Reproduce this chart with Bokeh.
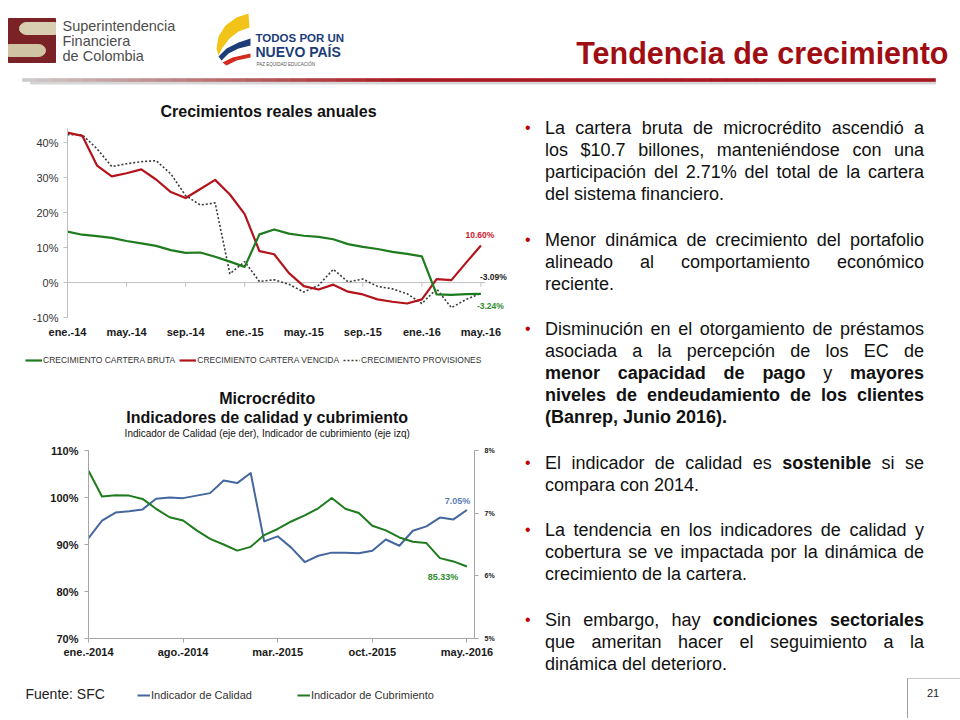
import numpy as np
from bokeh.plotting import figure
from bokeh.models import (Range1d, FixedTicker, PrintfTickFormatter, Label,
                          Legend, LegendItem, LinearAxis, Div)
from bokeh.layouts import column, row
from bokeh.core.properties import value
from bokeh.embed import file_html
from bokeh.resources import INLINE

FONT = "Liberation Sans"

# ---------------- Chart 1: Crecimientos reales anuales (%) ----------------
meses1 = ["ene.-14", "feb.-14", "mar.-14", "abr.-14", "may.-14", "jun.-14", "jul.-14",
          "ago.-14", "sep.-14", "oct.-14", "nov.-14", "dic.-14", "ene.-15", "feb.-15",
          "mar.-15", "abr.-15", "may.-15", "jun.-15", "jul.-15", "ago.-15", "sep.-15",
          "oct.-15", "nov.-15", "dic.-15", "ene.-16", "feb.-16", "mar.-16", "abr.-16",
          "may.-16"]
crec_cartera_bruta = [14.6, 13.7, 13.3, 12.8, 11.9, 11.2, 10.5, 9.3, 8.5, 8.6, 7.4, 6.0,
                      4.5, 13.8, 15.2, 14.0, 13.4, 13.1, 12.4, 11.0, 10.2, 9.6, 8.8, 8.2,
                      7.5, -3.4, -3.5, -3.3, -3.24]
crec_cartera_vencida = [42.9, 42.0, 33.5, 30.4, 31.3, 32.4, 29.5, 25.9, 24.2, 26.8, 29.4,
                        25.2, 19.6, 9.0, 8.1, 2.7, -1.0, -2.0, -0.6, -2.6, -3.4, -4.8,
                        -5.5, -6.0, -4.8, 1.0, 0.7, 5.7, 10.6]
crec_provisiones = [42.3, 42.3, 38.3, 33.2, 34.0, 34.6, 34.9, 31.1, 24.9, 22.2, 22.8, 2.5,
                    6.0, 0.3, 0.8, -0.5, -2.7, -0.8, 3.8, 0.2, 1.0, -1.1, -1.8, -3.2,
                    -6.0, -1.8, -7.2, -4.8, -3.09]
etiquetas_x1 = ["ene.-14", "may.-14", "sep.-14", "ene.-15", "may.-15", "sep.-15",
                "ene.-16", "may.-16"]
ticks_y1 = [-10, 0, 10, 20, 30, 40]

# ---------------- Chart 2: Microcrédito, calidad y cubrimiento ----------------
meses2 = ["ene.-2014", "feb.-2014", "mar.-2014", "abr.-2014", "may.-2014", "jun.-2014",
          "jul.-2014", "ago.-2014", "sep.-2014", "oct.-2014", "nov.-2014", "dic.-2014",
          "ene.-2015", "feb.-2015", "mar.-2015", "abr.-2015", "may.-2015", "jun.-2015",
          "jul.-2015", "ago.-2015", "sep.-2015", "oct.-2015", "nov.-2015", "dic.-2015",
          "ene.-2016", "feb.-2016", "mar.-2016", "abr.-2016", "may.-2016"]
indicador_calidad = [6.60, 6.88, 7.01, 7.03, 7.06, 7.23, 7.25, 7.24, 7.28, 7.32, 7.52, 7.48,
                     7.64, 6.55, 6.63, 6.45, 6.22, 6.32, 6.37, 6.37, 6.36, 6.40, 6.58, 6.48,
                     6.72, 6.79, 6.93, 6.90, 7.05]
indicador_cubrimiento = [105.7, 100.2, 100.5, 100.4, 99.7, 97.6, 95.8, 95.1, 93.0, 91.2,
                         90.0, 88.7, 89.5, 92.0, 93.3, 94.9, 96.2, 97.7, 99.9, 97.6, 96.7,
                         94.0, 93.0, 91.5, 90.6, 90.3, 87.1, 86.4, 85.33]
etiquetas_x2 = ["ene.-2014", "ago.-2014", "mar.-2015", "oct.-2015", "may.-2016"]
ticks_y2_izq = [70, 80, 90, 100, 110]
ticks_y2_der = [5, 6, 7, 8]

# ---------------- Texto de la diapositiva ----------------
titulo = "Tendencia de crecimiento"
titulo_g1 = "Crecimientos reales anuales"
titulos_g2 = ["Microcrédito", "Indicadores de calidad y cubrimiento",
              "Indicador de Calidad (eje der), Indicador de cubrimiento (eje izq)"]
leyenda_g1 = ["CRECIMIENTO CARTERA BRUTA", "CRECIMIENTO CARTERA VENCIDA",
              "CRECIMIENTO PROVISIONES"]
leyenda_g2 = ["Indicador de Calidad", "Indicador de Cubrimiento"]
fuente = "Fuente: SFC"
parrafos = [
    ["La cartera bruta de microcrédito ascendió a",
     "los $10.7 billones, manteniéndose con una",
     "participación del 2.71% del total de la cartera",
     "del sistema financiero."],
    ["Menor dinámica de crecimiento del portafolio",
     "alineado al comportamiento económico",
     "reciente."],
    ["Disminución en el otorgamiento de préstamos",
     "asociada a la percepción de los EC de",
     "<b>menor capacidad de pago</b> y <b>mayores</b>",
     "<b>niveles de endeudamiento de los clientes</b>",
     "<b>(Banrep, Junio 2016).</b>"],
    ["El indicador de calidad es <b>sostenible</b> si se",
     "compara con 2014."],
    ["La tendencia en los indicadores de calidad y",
     "cobertura se ve impactada por la dinámica de",
     "crecimiento de la cartera."],
    ["Sin embargo, hay <b>condiciones sectoriales</b>",
     "que ameritan hacer el seguimiento a la",
     "dinámica del deterioro."],
]

GREEN = "#1E7B1E"
RED = "#B3141C"
DOTS = "#3A3A3A"
BLUE = "#44679F"
AXIS = "#BFBFBF"
NAN = [float("nan")]


def strip(h, w=508):
    s = figure(width=w, height=h, x_range=Range1d(0, w), y_range=Range1d(h, 0),
               output_backend="svg", toolbar_location=None, x_axis_type=None,
               y_axis_type=None, min_border=0, outline_line_color=None,
               frame_align=False)
    return s


def style_legend(leg, size, gw, gh, spacing):
    leg.orientation = "horizontal"
    leg.background_fill_alpha = 0
    leg.border_line_alpha = 0
    leg.padding = 0
    leg.margin = 0
    leg.spacing = spacing
    leg.glyph_width = gw
    leg.glyph_height = gh
    leg.label_height = gh
    leg.label_standoff = 1
    leg.label_text_font = FONT
    leg.label_text_font_size = size
    leg.label_text_color = "#333333"


# ======================= HEADER =======================
ph = strip(90, 960)
# SFC logo
ph.quad(left=8, right=55, top=18, bottom=62, color="#7B2226")
ph.quad(left=26, right=55, top=22, bottom=34, color="#D8CFB3")
ph.ellipse(x=26, y=28, width=14, height=12, color="#D8CFB3")
ph.quad(left=8, right=38, top=44, bottom=56, color="#CFC5A5")
ph.ellipse(x=38, y=50, width=14, height=12, color="#CFC5A5")
ph.text(x=[62, 62, 62], y=[25, 40, 55], text=["Superintendencia", "Financiera", "de Colombia"],
        text_font=value(FONT), text_font_size="14.5px", text_color="#4D4D4D",
        text_baseline="middle")
# Todos por un nuevo país logo
ph.patches(xs=[[248, 236, 225, 218, 216, 218, 222, 229, 238, 249],
               [218, 226, 238, 250, 250, 238, 228, 221],
               [222, 232, 250, 250, 236, 226]],
           ys=[[13, 17, 25, 36, 48, 55, 47, 38, 31, 27],
               [56, 48, 42, 38, 45, 48, 53, 60],
               [62, 57, 53, 57, 60, 65]],
           color=["#F2C318", "#1C3D78", "#D52B1E"], line_color=None)
ph.text(x=[255], y=[37], text=["TODOS POR UN"], text_font=value(FONT),
        text_font_style="bold", text_font_size="11.5px", text_color="#1C3D78",
        text_baseline="middle")
ph.text(x=[255], y=[51.5], text=["NUEVO PAÍS"], text_font=value(FONT),
        text_font_style="bold", text_font_size="14px", text_color="#1C3D78",
        text_baseline="middle")
ph.text(x=[256], y=[63.5], text=["PAZ  EQUIDAD  EDUCACIÓN"], text_font=value(FONT),
        text_font_size="4.5px", text_color="#555555", text_baseline="middle")
# Title
ph.text(x=[948], y=[52], text=[titulo], text_align="right", text_baseline="alphabetic",
        text_font=value(FONT), text_font_style="bold",
        text_font_size="30.5px", text_color="#A00D12")
# gradient rule
edges = np.linspace(22, 935, 62)
cols = []
for xm in (edges[:-1] + edges[1:]) / 2:
    t = min(1.0, (xm - 22) / 380.0)
    r = int(205 + (168 - 205) * t)
    g = int(205 + (24 - 205) * t)
    b = int(205 + (30 - 205) * t)
    cols.append("#%02x%02x%02x" % (r, g, b))
ph.quad(left=30, right=935, top=81, bottom=83.5, color="#D6D6D6")
ph.quad(left=edges[:-1], right=edges[1:], top=78, bottom=81, fill_color=cols,
        line_color=cols, line_width=0.6)

# ======================= CHART 1 =======================
t1 = strip(34)
t1.text(x=[268], y=[21], text=[titulo_g1], text_align="center", text_baseline="middle",
        text_font=value(FONT), text_font_size="16px", text_font_style="bold",
        text_color="#111111")

x1 = list(range(len(meses1)))
pos1 = [meses1.index(l) for l in etiquetas_x1]

p1 = figure(width=508, height=221, x_range=Range1d(0, 29.8), y_range=Range1d(-10, 44.1),
            output_backend="svg", toolbar_location=None, min_border_left=67,
            min_border_right=1, min_border_top=4, min_border_bottom=28,
            outline_line_color=None, frame_align=False)
p1.grid.visible = False
ya = p1.yaxis[0]
ya.ticker = FixedTicker(ticks=ticks_y1)
ya.formatter = PrintfTickFormatter(format="%d%%")
ya.axis_line_color = AXIS
ya.major_tick_line_color = AXIS
ya.major_tick_out = 4
ya.major_tick_in = 0
ya.minor_tick_line_color = None
ya.major_label_text_font = FONT
ya.major_label_text_font_size = "11px"
ya.major_label_text_color = "#333333"
ya.major_label_standoff = 5

xa = p1.xaxis[0]
xa.ticker = FixedTicker(ticks=pos1)
xa.major_label_overrides = {p: l for p, l in zip(pos1, etiquetas_x1)}
xa.axis_line_color = None
xa.major_tick_line_color = None
xa.minor_tick_line_color = None
xa.major_tick_out = 0
xa.major_label_standoff = 8
xa.major_label_text_font = FONT
xa.major_label_text_font_size = "11px"
xa.major_label_text_font_style = "bold"
xa.major_label_text_color = "#1A1A1A"

# horizontal category axis drawn at 0%
p1.segment(x0=[x1[0]], y0=[0], x1=[x1[-1] + 0.3], y1=[0], line_color=AXIS, line_width=1)
p1.segment(x0=pos1[1:], y0=[0] * (len(pos1) - 1), x1=pos1[1:], y1=[-1.2] * (len(pos1) - 1),
           line_color=AXIS, line_width=1)

p1.line(x1, crec_provisiones, line_color=DOTS, line_width=1.6, line_dash="2 2")
p1.line(x1, crec_cartera_vencida, line_color=RED, line_width=2.2, line_join="round")
p1.line(x1, crec_cartera_bruta, line_color=GREEN, line_width=2.2, line_join="round")

p1.add_layout(Label(x=x1[-1], y=crec_cartera_vencida[-1], x_offset=-1, y_offset=11,
                    text=f"{crec_cartera_vencida[-1]:.2f}%", text_align="center",
                    text_baseline="middle", text_font=FONT, text_font_size="8.5px",
                    text_font_style="bold", text_color="#D0202A"))
p1.add_layout(Label(x=x1[-1], y=crec_provisiones[-1], x_offset=-1, y_offset=16.5,
                    text=f"{crec_provisiones[-1]:.2f}%", text_align="left",
                    text_baseline="middle", text_font=FONT, text_font_size="8.5px",
                    text_font_style="bold", text_color="#222222"))
p1.add_layout(Label(x=x1[-1], y=crec_cartera_bruta[-1], x_offset=-4, y_offset=-12,
                    text=f"{crec_cartera_bruta[-1]:.2f}%", text_align="left",
                    text_baseline="middle", text_font=FONT, text_font_size="8.5px",
                    text_font_style="bold", text_color="#2E8B2E"))

# legend strip (legend swatches only; renderers carry no visible data)
l1 = strip(30)
g_bruta = l1.line(x=NAN, y=NAN, line_color=GREEN, line_width=2.2)
g_venc = l1.line(x=NAN, y=NAN, line_color=RED, line_width=2.2)
g_prov = l1.line(x=NAN, y=NAN, line_color=DOTS, line_width=1.6, line_dash="2 2")
leg1 = Legend(items=[LegendItem(label=leyenda_g1[0], renderers=[g_bruta]),
                     LegendItem(label=leyenda_g1[1], renderers=[g_venc]),
                     LegendItem(label=leyenda_g1[2], renderers=[g_prov])],
              location=(25, 10))
style_legend(leg1, "8.5px", 17, 10, 4)
l1.add_layout(leg1)

# ======================= CHART 2 =======================
t2 = strip(67)
for txt, yy, fs, st in zip(titulos_g2, [23, 42, 58], ["16px", "16px", "10px"],
                           ["bold", "bold", "normal"]):
    t2.text(x=[266.7], y=[yy], text=[txt], text_align="center", text_baseline="middle",
            text_font=value(FONT), text_font_size=fs, text_font_style=st,
            text_color="#111111")

x2 = list(range(len(meses2)))
pos2 = [meses2.index(l) for l in etiquetas_x2]

p2 = figure(width=508, height=230, x_range=Range1d(0, 28.56), y_range=Range1d(70, 110),
            output_backend="svg", toolbar_location=None, min_border_left=88,
            min_border_right=34, min_border_top=8, min_border_bottom=34,
            outline_line_color=None, frame_align=False)
p2.grid.visible = False
p2.extra_y_ranges = {"der": Range1d(5, 8)}

yl = p2.yaxis[0]
yl.ticker = FixedTicker(ticks=ticks_y2_izq)
yl.formatter = PrintfTickFormatter(format="%d%%")
yr = LinearAxis(y_range_name="der", ticker=FixedTicker(ticks=ticks_y2_der),
                formatter=PrintfTickFormatter(format="%d%%"))
p2.add_layout(yr, "right")
for ax, fs in ((yl, "11px"), (yr, "7px")):
    ax.axis_line_color = "#A6A6A6"
    ax.major_tick_line_color = "#A6A6A6"
    ax.major_tick_out = 4
    ax.major_tick_in = 0
    ax.minor_tick_line_color = None
    ax.major_label_standoff = 6
    ax.major_label_text_font = FONT
    ax.major_label_text_font_size = fs
    ax.major_label_text_font_style = "bold"
    ax.major_label_text_color = "#1A1A1A"

xb = p2.xaxis[0]
xb.ticker = FixedTicker(ticks=pos2)
xb.major_label_overrides = {p: l for p, l in zip(pos2, etiquetas_x2)}
xb.axis_line_color = "#A6A6A6"
xb.major_tick_line_color = "#A6A6A6"
xb.minor_tick_line_color = None
xb.major_tick_out = 4
xb.major_tick_in = 0
xb.major_label_standoff = 3
xb.major_label_text_font = FONT
xb.major_label_text_font_size = "11px"
xb.major_label_text_font_style = "bold"
xb.major_label_text_color = "#1A1A1A"

p2.line(x2, indicador_calidad, y_range_name="der", line_color=BLUE, line_width=2,
        line_join="round")
p2.line(x2, indicador_cubrimiento, line_color=GREEN, line_width=2, line_join="round")

p2.add_layout(Label(x=x2[-1], y=indicador_calidad[-1], y_range_name="der", x_offset=3.3,
                    y_offset=9, text=f"{indicador_calidad[-1]:.2f}%", text_align="right",
                    text_baseline="middle", text_font=FONT, text_font_size="9px",
                    text_font_style="bold", text_color="#5B7DB5"))
p2.add_layout(Label(x=x2[-1], y=indicador_cubrimiento[-1], x_offset=-8.7, y_offset=-11,
                    text=f"{indicador_cubrimiento[-1]:.2f}%", text_align="right",
                    text_baseline="middle", text_font=FONT, text_font_size="9px",
                    text_font_style="bold", text_color="#2E8B2E"))

# legend strip + source
l2 = strip(46)
g_cal = l2.line(x=NAN, y=NAN, line_color=BLUE, line_width=2)
g_cub = l2.line(x=NAN, y=NAN, line_color=GREEN, line_width=2)
leg2 = Legend(items=[LegendItem(label=leyenda_g2[0], renderers=[g_cal]),
                     LegendItem(label=leyenda_g2[1], renderers=[g_cub])],
              location=(137, 17))
style_legend(leg2, "11px", 13, 12, 45)
l2.add_layout(leg2)
l2.text(x=[25], y=[21], text=[fuente], text_baseline="middle", text_font=value(FONT),
        text_font_size="14px", text_color="#222222")

# ======================= TEXT COLUMN =======================
html = ['<div style="position:relative;width:452px;height:628px;'
        f"font-family:'{FONT}',Arial,sans-serif;color:#111;\">",
        '<div style="position:absolute;left:37px;top:27px;width:379px;'
        'font-size:18px;line-height:22px;">']
for lines in parrafos:
    html.append('<div style="position:relative;margin-bottom:23.5px;">')
    html.append('<span style="position:absolute;left:-20px;top:0;font-size:16px;'
                'line-height:22px;color:#C00000;">&#8226;</span>')
    for i, ln in enumerate(lines):
        last = "left" if i == len(lines) - 1 else "justify"
        html.append(f'<div style="text-align:justify;text-align-last:{last};">{ln}</div>')
    html.append('</div>')
html.append('</div>')
html.append('<div style="position:absolute;left:399px;top:588px;width:53px;height:40px;'
            'border-left:1px solid #A0A0A0;border-top:1px solid #C8C8C8;"></div>')
html.append('<div style="position:absolute;left:419px;top:596px;font-size:11px;'
            'line-height:14px;color:#222;">21</div>')
html.append('</div>')
div = Div(text="".join(html), width=452, height=628, disable_math=True, margin=0)

layout = column(ph, row(column(t1, p1, l1, t2, p2, l2), div))
open("out.html", "w").write(file_html(layout, INLINE))
